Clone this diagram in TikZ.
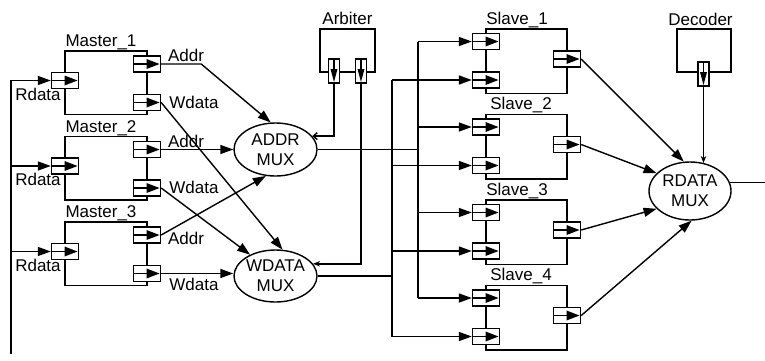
\documentclass[tikz,border=0pt]{standalone}
\usepackage{fontspec}
\setmainfont{Liberation Sans}
\usetikzlibrary{arrows.meta,shapes.geometric}
\tikzset{
  wire/.style={line width=1.4pt},
  unitbox/.style={draw, line width=1.4pt, inner sep=0pt},
  hport/.style={draw, fill=white, line width=1.4pt, minimum width=27pt, minimum height=16pt, inner sep=0pt,
    path picture={
      \draw[draw=black, line width=1.4pt] (path picture bounding box.west) -- ([xshift=-10pt]path picture bounding box.east);
      \fill[fill=black] ([xshift=-1pt]path picture bounding box.east) -- ++(-13pt,5pt) -- ++(0pt,-10pt) -- cycle;}},
  vport/.style={draw, fill=white, line width=1.4pt, minimum width=11pt, minimum height=24pt, inner sep=0pt,
    path picture={
      \draw[draw=black, line width=1.4pt] (path picture bounding box.north) -- ([yshift=10pt]path picture bounding box.south);
      \fill[fill=black] ([yshift=1pt]path picture bounding box.south) -- ++(-3.5pt,13pt) -- ++(7pt,0pt) -- cycle;}},
  mux/.style={ellipse, draw, line width=1.4pt, minimum width=83pt, minimum height=53pt, inner sep=0pt},
  lbl/.style={font=\fontsize{17}{20}\selectfont, inner sep=0pt, anchor=base},
  muxtext/.style={font=\fontsize{17}{20}\selectfont, align=center, inner sep=0pt},
  bigarrow/.style={line width=1.4pt, -{Triangle[length=13pt,width=9pt]}},
  smallarrow/.style={line width=1.4pt, -{Stealth[length=7pt,width=5.5pt]}},
  barbarrow/.style={line width=1.4pt, -{Straight Barb[length=4pt,width=7pt]}},
}
\begin{document}
\begin{tikzpicture}[x=1pt,y=-1pt]
\useasboundingbox (0,0) rectangle (765,360);

% Masters
\foreach \i/\T in {1/51,2/136.5,3/222}{
  \node[unitbox, minimum width=82pt, minimum height=63.5pt] (m\i) at (106,\T+31.75) {};
  \node[lbl] (ml\i) at (101,\T-4.5) {Master\_\i};
  \node[hport] (m\i r) at (65,\T+29.5) {};
  \node[hport] (m\i a) at (147,\T+13) {};
  \node[hport] (m\i w) at (147,\T+51.5) {};
  \node[lbl] (rl\i) at (38,\T+49) {Rdata};
}
\node[lbl] (al1) at (186,61) {Addr};
\node[lbl] (al2) at (186,147) {Addr};
\node[lbl] (al3) at (186,244) {Addr};
\node[lbl] (wl1) at (194,108) {Wdata};
\node[lbl] (wl2) at (194,193) {Wdata};
\node[lbl] (wl3) at (194,290) {Wdata};

% feedback line
\coordinate (fb) at (11,354);
\draw[bigarrow] (fb) |- (m1r.west);
\draw[bigarrow] (fb |- m2r.west) -- (m2r.west);
\draw[bigarrow] (fb |- m3r.west) -- (m3r.west);

% MUXes
\node[mux] (addr) at (275.5,149.5) {};
\node[muxtext] (addrt) at (addr) {ADDR\\MUX};
\node[mux, minimum height=52pt] (wdata) at (275.5,276) {};
\node[muxtext] (wdatat) at (wdata) {WDATA\\MUX};
\node[mux, minimum width=82pt, minimum height=58pt] (rdata) at (690,191) {};
\node[muxtext] (rdatat) at (rdata) {RDATA\\MUX};

% master -> mux
\draw[bigarrow] (m1a.east) -- ++(40,0) -- (addr.100);
\draw[bigarrow] (m2a.east) -- (m2a.east -| addr.west);
\draw[bigarrow] (m3a.east) -- (addr.250);
\draw[bigarrow] (m1w.east) -- (wdata.75);
\draw[bigarrow] (m2w.east) -- (wdata.140);
\draw[bigarrow] (m3w.east) -- (m3w.east -| wdata.west);

% Arbiter
\node[unitbox, minimum width=55pt, minimum height=43pt] (arb) at (347.5,50.5) {};
\node[lbl] (arbl) at (347.5,24) {Arbiter};
\node[vport] (arb1) at (334,71) {};
\node[vport] (arb2) at (361,71) {};
\draw[barbarrow] (arb1.south) |- (addr.20);
\draw[smallarrow] (arb2.south) |- (wdata.18);

% Slaves
\foreach \i/\S/\lx in {1/29/517,2/114.5/521,3/200/517,4/285.5/521}{
  \node[unitbox, minimum width=81pt, minimum height=64.5pt] (s\i) at (526.5,\S+32.25) {};
  \node[lbl] (sl\i) at (\lx,\S-5) {Slave\_\i};
  \node[hport] (s\i t) at (486,\S+12.5) {};
  \node[hport] (s\i b) at (486,\S+51) {};
  \node[hport] (s\i o) at (567,\S+30) {};
}

% buses
\coordinate (abus) at (418,0);
\coordinate (wbus) at (392,0);
\draw[wire] (addr.east) -- (addr.east -| abus);
\draw[wire] (abus |- s1t.west) -- (abus |- s4t.west);
\draw[wire] (wdata.east) -- (wdata.east -| wbus);
\draw[wire] (wbus |- s1b.west) -- (wbus |- s4b.west);
\foreach \i in {1,2,3,4}{
  \draw[bigarrow] (abus |- s\i t.west) -- (s\i t.west);
  \draw[bigarrow] (wbus |- s\i b.west) -- (s\i b.west);
}

% Decoder
\node[unitbox, minimum width=54pt, minimum height=43pt] (dec) at (704,50.5) {};
\node[lbl] (decl) at (700.5,25) {Decoder};
\node[vport] (decp) at (703.5,74) {};
\draw[smallarrow] (decp.south) -- (decp.south |- rdata.64);

% slave -> rdata
\draw[bigarrow] (s1o.east) -- (rdata.102);
\draw[bigarrow] (s2o.east) -- (rdata.152);
\draw[bigarrow] (s3o.east) -- (rdata.208);
\draw[bigarrow] (s4o.east) -- (rdata.273);

\coordinate (rend) at (765,0);
\draw[wire] (rdata.12) -- (rdata.12 -| rend);
\end{tikzpicture}
\end{document}
